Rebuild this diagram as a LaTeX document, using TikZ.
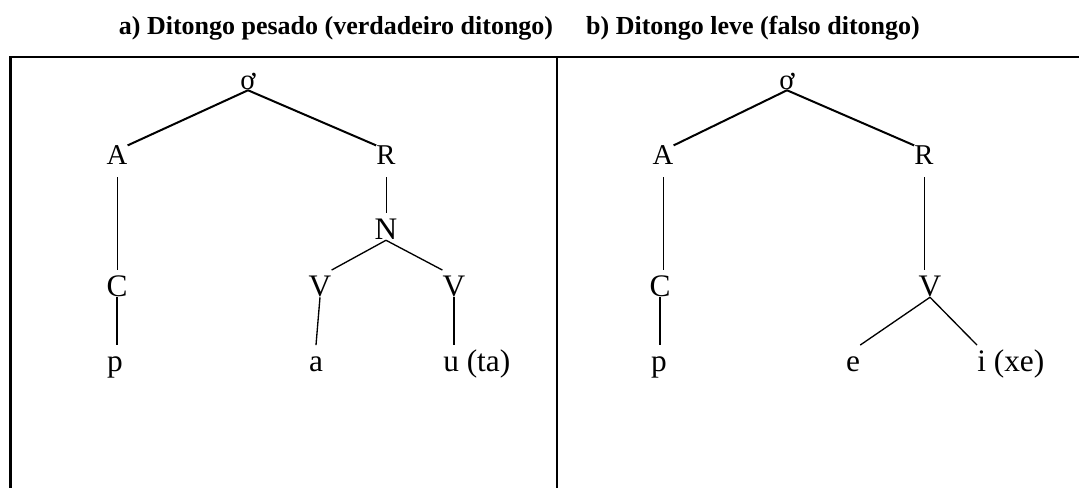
\documentclass[tikz,border=0pt]{standalone}
\usepackage{fontspec}
\setmainfont{Liberation Serif}

\begin{document}
\begin{tikzpicture}[x=0.75pt, y=-0.75pt,
		titulo/.style={font=\fontsize{19.5}{23}\selectfont\bfseries, inner sep=0pt, anchor=base},
		peq/.style={font=\fontsize{21.5}{26}\selectfont, inner sep=0pt, anchor=base, text height=14.5pt, text depth=9pt},
		grd/.style={font=\fontsize{23.5}{28}\selectfont, inner sep=0pt, anchor=base, text height=20pt, text depth=0pt}]
	\useasboundingbox (0,0) rectangle (1079,488);
	
	% ==== 标题 ====
	\node[titulo] (tita) at (336,35) {a) Ditongo pesado (verdadeiro ditongo)};
	\node[titulo] (titb) at (753,35) {b) Ditongo leve (falso ditongo)};
	
	% 表格边框
	\draw[line width=1.7pt, line join=miter] (10.5,488) -- (10.5,57) -- (1079,57);
	\draw[line width=1.7pt] (556.7,57) -- (556.7,488);
	
	% ==== 左侧：a) 重二合元音 ====
	\begin{scope}
		% 节点
		\node[peq, text depth=0pt] (s1) at (248,90) {ơ};
		\node[peq] (A1) at (117,165) {A};
		\node[peq] (R1) at (386,165) {R};
		\node[grd] (N1) at (386,240) {N};
		\node[grd] (C1) at (117,297) {C};
		\node[grd] (V1) at (320,297) {V};
		\node[grd] (V2) at (454,297) {V};
		\node[grd] (p1) at (115,372) {p};
		\node[grd] (a1) at (316,372) {a};
		\node[grd, anchor=base west] (u1) at (443,372) {u (ta)};
		
		% 连线
		\draw[line width=1.5pt] (s1.south) -- (A1.north east);
		\draw[line width=1.5pt] (s1.south) -- (R1.north west);
		\draw[line width=0.75pt] (A1.south) -- (C1.north);
		\draw[line width=0.75pt] (R1.south) -- (N1.north);
		\draw[line width=1.7pt] (C1.south) -- (C1.south |- p1.north);
		\draw[line width=1pt] (N1.south) -- (V1.north east);
		\draw[line width=1pt] (N1.south) -- (V2.north west);
		\draw[line width=1pt] (V1.south) -- (a1.north);
		\draw[line width=1pt] (V2.south) -- (V2.south |- u1.north);
	\end{scope}
	
	% ==== 右侧：b) 轻二合元音 ====
	\begin{scope}
		% 节点
		\node[peq, text depth=0pt] (s2) at (787,90) {ơ};
		\node[peq] (A2) at (663,165) {A};
		\node[peq] (R2) at (924,165) {R};
		\node[grd] (C2) at (660,297) {C};
		\node[grd] (V3) at (930,297) {V};
		\node[grd] (p2) at (659,372) {p};
		\node[grd] (e2) at (853,372) {e};
		\node[grd, anchor=base west] (i2) at (977,372) {i (xe)};
		
		% 连线
		\draw[line width=1.5pt] (s2.south) -- (A2.north east);
		\draw[line width=1.5pt] (s2.south) -- (R2.north west);
		\draw[line width=0.75pt] (A2.south) -- (A2.south |- C2.north);
		\draw[line width=0.75pt] (R2.south) -- (R2.south |- V3.north);
		\draw[line width=1.5pt] (C2.south) -- (C2.south |- p2.north);
		\draw[line width=1pt] (V3.south) -- (e2.north east);
		\draw[line width=1pt] (V3.south) -- (i2.north west);
	\end{scope}
\end{tikzpicture}
\end{document}
